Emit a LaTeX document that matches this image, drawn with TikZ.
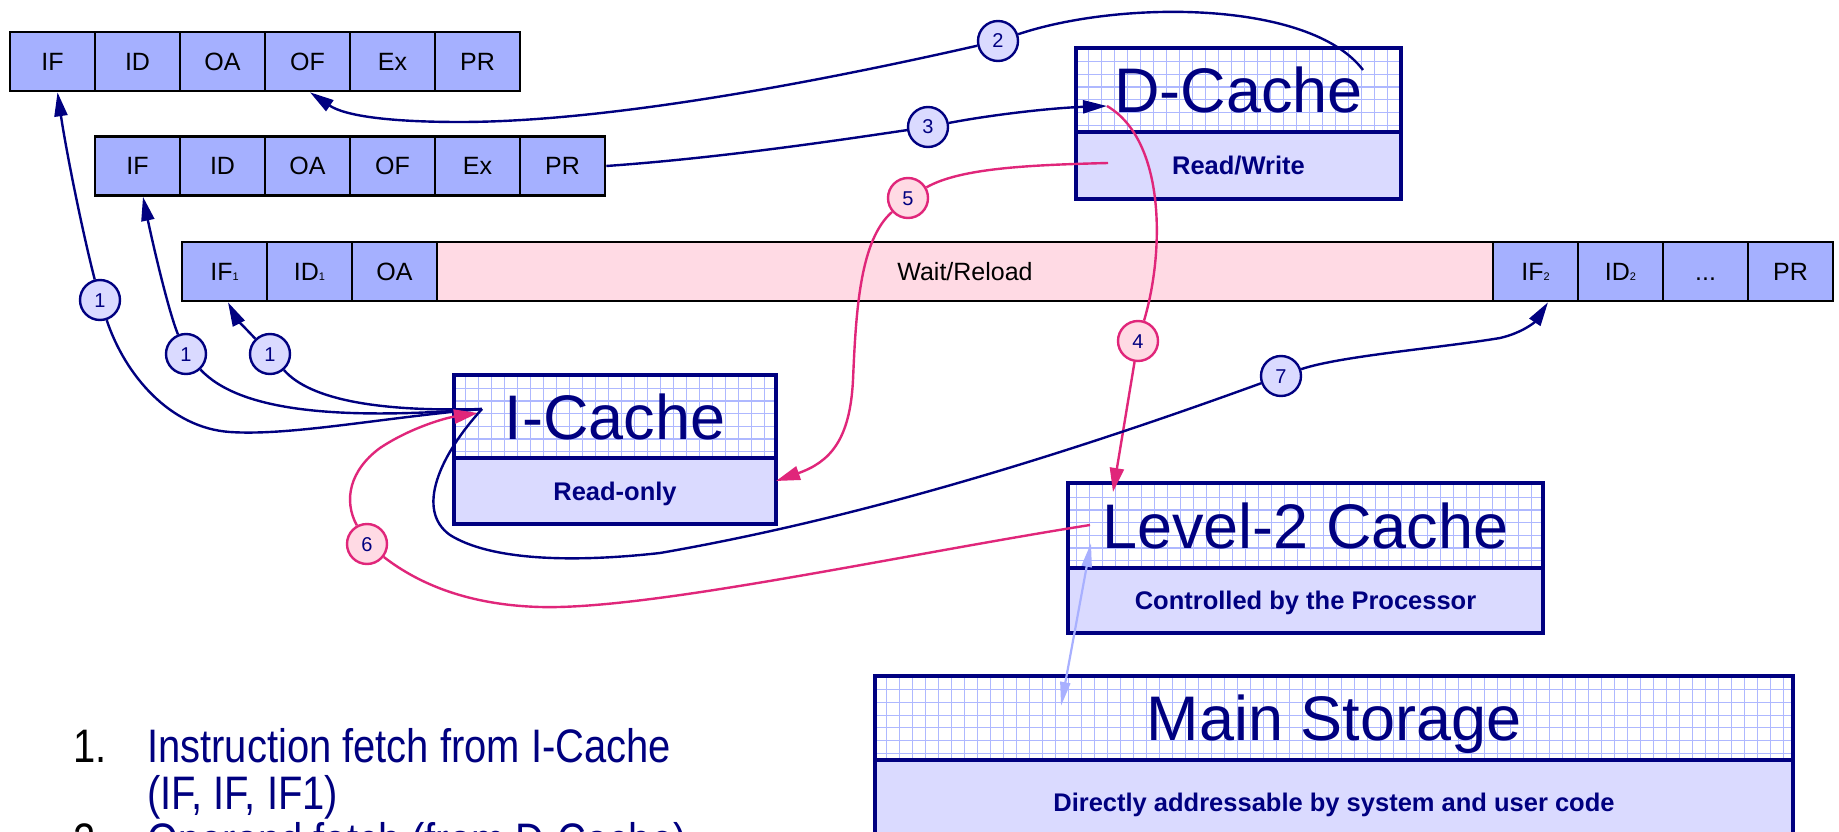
\documentclass[tikz,border=0pt]{standalone}
\usepackage{fontspec}
\setmainfont{Liberation Sans}
\newfontfamily\listfamily[FakeStretch=0.85]{Liberation Sans}
\usetikzlibrary{arrows.meta}

\definecolor{ink}{HTML}{000080}
\definecolor{cellfill}{HTML}{A5B0FF}
\definecolor{lowfill}{HTML}{DADAFF}
\definecolor{waitfill}{HTML}{FFDAE4}
\definecolor{gridline}{HTML}{AEB8FF}
\definecolor{rose}{HTML}{E0267A}
\definecolor{pale}{HTML}{A8B0FF}

\newcommand\fCell{\fontsize{25pt}{30pt}\selectfont}
\newcommand\fBig{\fontsize{63pt}{70pt}\selectfont}
\newcommand\fSub{\fontsize{25.5pt}{30pt}\selectfont\bfseries}
\newcommand\fNum{\fontsize{20pt}{24pt}\selectfont}
\newcommand\fList{\listfamily\fontsize{47pt}{56pt}\selectfont}
\newcommand\fTiny{\fontsize{11pt}{12pt}\selectfont}

\tikzset{
  cell/.style={draw=black, line width=2.6pt, fill=cellfill, minimum width=85pt,
    minimum height=59pt, inner sep=0pt, text height=18pt, text depth=0pt, font=\fCell},
  gridtop/.style={draw=ink, line width=4pt, inner sep=0pt, text=ink, text height=45pt,
    text depth=0pt, font=\fBig,
    path picture={\draw[gridline, line width=1.2pt]
      (path picture bounding box.south west) grid[xstep=13pt, ystep=12.7pt]
      (path picture bounding box.north east);}},
  lowpart/.style={draw=ink, line width=4pt, fill=lowfill, inner sep=0pt, text=ink,
    text height=18.5pt, text depth=0pt, font=\fSub},
  tagb/.style={circle, draw=ink, line width=2.4pt, fill=lowfill, minimum size=40pt,
    inner sep=0pt, text=ink, font=\fNum, text height=14pt, text depth=0pt},
  tagp/.style={tagb, draw=rose, fill=waitfill},
  link/.style={draw=ink, line width=2.4pt},
  hot/.style={draw=rose, line width=2.4pt},
  tipn/.style={-{Triangle[length=24pt,width=13pt]}},
  tipm/.style={-{Triangle[length=24pt,width=14pt]}},
  listtext/.style={anchor=base west, inner sep=0pt, font=\fList, text=ink},
}

\begin{document}
\begin{tikzpicture}[x=1pt, y=-1pt]
\fill[white] (0,0) rectangle (1839,832);
\useasboundingbox (0,0) rectangle (1839,832);

% pipeline rows
\foreach \lab [count=\i] in {IF,ID,OA,OF,Ex,PR}
  \node[cell] (ra\i) at ({10+85*\i-42.5}, 61.5) {\lab};
\foreach \lab [count=\i] in {IF,ID,OA,OF,Ex,PR}
  \node[cell] (rb\i) at ({95+85*\i-42.5}, 166) {\lab};

\node[cell] (rc1) at (224.5,271.5) {IF{\fTiny 1}};
\node[cell] (rc2) at (309.5,271.5) {ID{\fTiny 1}};
\node[cell] (rc3) at (394.5,271.5) {OA};
\node[cell, fill=waitfill, minimum width=1056pt] (rwait) at (965,271.5) {Wait/Reload};
\node[cell] (rc4) at (1535.5,271.5) {IF{\fTiny 2}};
\node[cell] (rc5) at (1620.5,271.5) {ID{\fTiny 2}};
\node[cell] (rc6) at (1705.5,271.5) {...};
\node[cell] (rc7) at (1790.5,271.5) {PR};

% caches and storage
\node[lowpart, minimum width=325pt, minimum height=67pt] (dlow) at (1238.5,165.5) {Read/Write};
\node[gridtop, minimum width=325pt, minimum height=84pt] (dtop) at (1238.5,90) {D-Cache};

\node[lowpart, minimum width=322pt, minimum height=66pt] (ilow) at (615,491) {Read-only};
\node[gridtop, minimum width=322pt, minimum height=83pt] (itop) at (615,416.5) {I-Cache};

\node[lowpart, minimum width=475pt, minimum height=65pt] (llow) at (1305.5,600.5) {Controlled by the Processor};
\node[gridtop, minimum width=475pt, minimum height=85pt] (ltop) at (1305.5,525.5) {Level-2 Cache};

\node[lowpart, minimum width=918pt, minimum height=85pt] (mlow) at (1334,802.5) {Directly addressable by system and user code};
\node[gridtop, minimum width=918pt, minimum height=84pt] (mtop) at (1334,718) {Main Storage};

% step tags
\node[tagb] (c1a) at (100,300) {1};
\node[tagb] (c1b) at (186,354) {1};
\node[tagb] (c1c) at (270,354) {1};
\node[tagb] (c2) at (998,41) {2};
\node[tagb] (c3) at (928,127) {3};
\node[tagp] (c4) at (1138,341) {4};
\node[tagp] (c5) at (908,198) {5};
\node[tagp] (c6) at (367,544) {6};
\node[tagb] (c7) at (1281,376) {7};

% connector ends
\coordinate (icport) at (482,409);
\coordinate (ic6) at (478,413);
\coordinate (ic5) at (776,481);
\coordinate (dport2) at (1363,70);
\coordinate (dport3) at (1107,106);
\coordinate (dport5) at (1108,163);
\coordinate (l2in4) at (1113,492);
\coordinate (l2port6) at (1090,525);
\coordinate (l2blue) at (1091,543);
\coordinate (msblue) at (1061,706);
\coordinate (t1a) at ([xshift=5pt]ra1.south);
\coordinate (t1b) at ([xshift=5.5pt]rb1.south);
\coordinate (t1c) at ([xshift=3.5pt]rc1.south);
\coordinate (t2) at ([xshift=2.5pt]ra4.south);
\coordinate (t7) at ([xshift=12.5pt]rc4.south);

% 1: instruction fetches from the I-Cache
\draw[link] (icport) .. controls (380,418) and (290,436) .. (230,432)
  .. controls (170,428) and (125,375) .. (c1a);
\draw[link, tipn] (c1a) .. controls (82,230) and (66,150) .. (t1a);
\draw[link] (icport) .. controls (340,420) and (240,412) .. (c1b);
\draw[link, tipn] (c1b) .. controls (168,310) and (152,240) .. (t1b);
\draw[link] (icport) .. controls (380,412) and (310,400) .. (c1c);
\draw[link, tipn] (c1c) .. controls (245,328) and (236,318) .. (t1c);

% 2: operand fetch
\draw[link] (dport2) .. controls (1310,0) and (1120,0) .. (c2);
\draw[link, tipn] (c2) .. controls (800,86) and (600,122) .. (460,122)
  .. controls (390,122) and (345,116) .. (t2);

% 3: store
\draw[link] (rb6.east) .. controls (720,158) and (840,140) .. (c3);
\draw[link, tipn] (c3) .. controls (990,115) and (1050,108) .. (dport3);

% 4: D-Cache miss to level 2
\draw[hot] (dport3) .. controls (1165,140) and (1165,250) .. (c4);
\draw[hot, tipm] (c4) -- (l2in4);

% 5: cross-interrogation of the I-Cache
\draw[hot] (dport5) .. controls (1030,165) and (960,168) .. (c5);
\draw[hot, tipm] (c5) .. controls (860,240) and (856,310) .. (853,380)
  .. controls (850,440) and (830,462) .. (ic5);

% 6: I-Cache reload from level 2
\draw[hot] (l2port6) .. controls (900,555) and (650,610) .. (540,607)
  .. controls (470,605) and (420,585) .. (c6);
\draw[hot, tipm] (c6) .. controls (343,500) and (350,470) .. (380,448)
  .. controls (410,428) and (445,418) .. (ic6);

% 7: refetch
\draw[link] (icport) .. controls (440,455) and (415,510) .. (450,535)
  .. controls (490,560) and (570,563) .. (660,553)
  .. controls (850,520) and (1050,460) .. (c7);
\draw[link, tipn] (c7) .. controls (1340,356) and (1440,348) .. (1500,338)
  .. controls (1522,333) and (1535,322) .. (t7);

% level 2 <-> main storage
\draw[pale, line width=2.2pt, {Triangle[length=24pt,width=10pt]}-{Triangle[length=24pt,width=10pt]}]
  (msblue) -- (l2blue);

% legend
\node[listtext, text=black] (n1) at (73,762) {1.};
\node[listtext] (l1) at (147,762) {Instruction fetch from I-Cache};
\node[listtext] (l2) at (147,809) {(IF, IF, IF1)};
\node[listtext, text=black] (n2) at (73,856) {2.};
\node[listtext] (l3) at (147,856) {Operand fetch (from D-Cache)};
\end{tikzpicture}
\end{document}
